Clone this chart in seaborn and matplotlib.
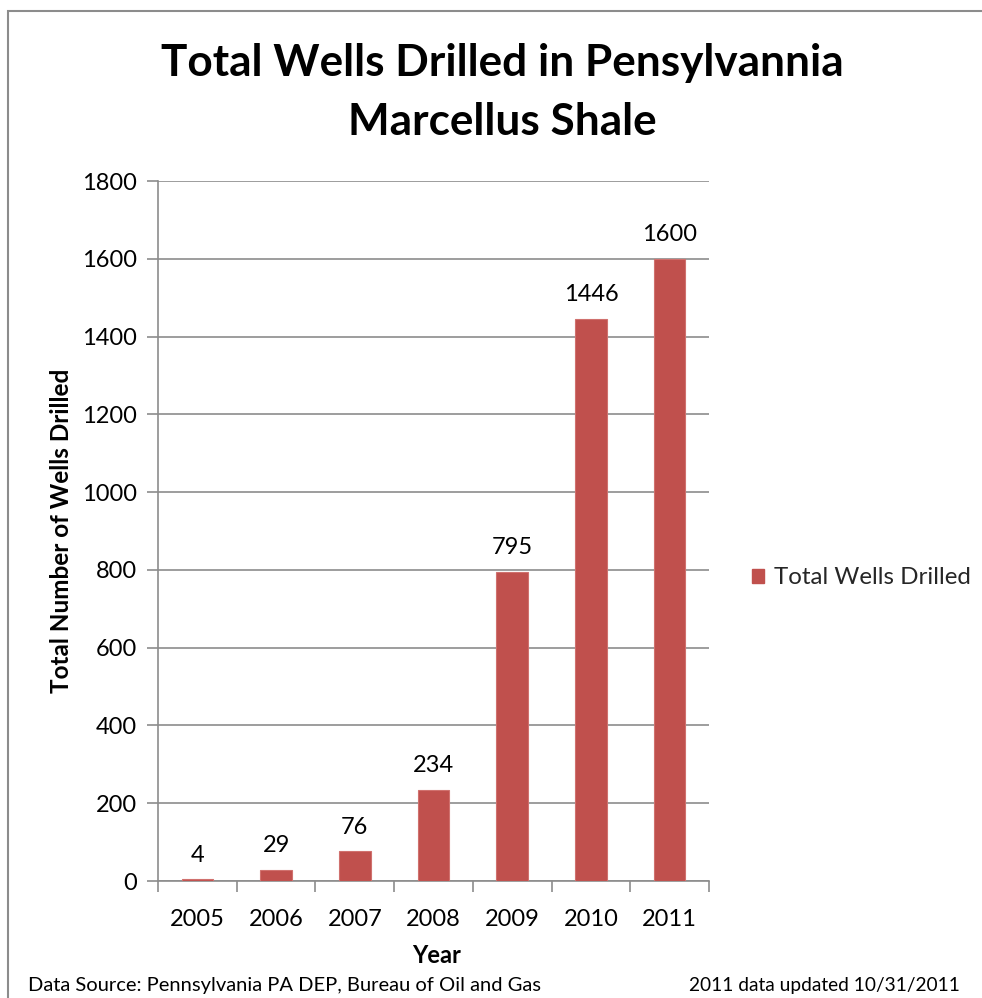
import matplotlib
matplotlib.use("Agg")
import matplotlib.pyplot as plt
import seaborn as sns
import pandas as pd
from matplotlib.patches import Rectangle, Patch

years = ["2005", "2006", "2007", "2008", "2009", "2010", "2011"]
wells = [4, 29, 76, 234, 795, 1446, 1600]
yticks = [0, 200, 400, 600, 800, 1000, 1200, 1400, 1600, 1800]

sns.set_theme(style="white")
plt.rcParams['font.family'] = ['Lato', 'DejaVu Sans']

W, H = 982, 998
fig = plt.figure(figsize=(W / 100, H / 100), dpi=100)
ax = fig.add_axes([158 / W, 1 - 881 / H, (709 - 158) / W, (881 - 181) / H])

df = pd.DataFrame({"Year": years, "Wells": wells})
sns.barplot(data=df, x="Year", y="Wells", color="#C0504D", width=0.4, ax=ax,
            saturation=1, edgecolor="#D0716E", linewidth=0.8, zorder=3)

ax.set_ylim(0, 1800)
ax.set_xlim(-0.5, len(years) - 0.5)
ax.set_yticks(yticks)
ax.yaxis.grid(True, color="#8C8C8C", linewidth=1.2, zorder=0)
ax.set_axisbelow(True)
for s in ["top", "right"]:
    ax.spines[s].set_visible(False)
for s in ["left", "bottom"]:
    ax.spines[s].set_color("#8C8C8C")
    ax.spines[s].set_linewidth(1.2)
ax.tick_params(axis="y", direction="out", length=8, width=1.2, color="#8C8C8C",
               labelsize=17, pad=7, left=True)
ax.tick_params(axis="x", bottom=False, labelsize=17, pad=14)
# category boundary ticks
ax.set_xticks([i - 0.5 for i in range(len(years) + 1)], minor=True)
ax.tick_params(axis="x", which="minor", bottom=True, direction="out", length=8,
               width=1.2, color="#8C8C8C")
for lbl in ax.get_yticklabels() + ax.get_xticklabels():
    lbl.set_color("black")

for i, v in enumerate(wells):
    ax.text(i, v + 35, str(v), ha="center", va="bottom", fontsize=17, color="black")

ax.set_xlabel("Year", fontsize=17, fontweight="bold", color="black")
ax.set_ylabel("Total Number of Wells Drilled", fontsize=17.5, fontweight="bold",
              color="black")
ax.xaxis.set_label_coords((437 - 158) / (709 - 158), -(944 - 881) / (881 - 181))
ax.yaxis.set_label_coords(-(158 - 73) / (709 - 158), (881 - 531) / (881 - 181))

fig.text(502 / W, 1 - 63 / H, "Total Wells Drilled in Pensylvannia", ha="center",
         va="center", fontsize=31.8, fontweight="bold", color="black")
fig.text(502 / W, 1 - 122 / H, "Marcellus Shale", ha="center",
         va="center", fontsize=31.8, fontweight="bold", color="black")

leg = fig.legend(handles=[Patch(facecolor="#C0504D", edgecolor="#C0504D",
                                label="Total Wells Drilled")],
                 loc="center left", bbox_to_anchor=(752 / W, 1 - 578 / H),
                 frameon=False, fontsize=17.4, handlelength=0.48, handleheight=0.48,
                 handletextpad=0.45, borderpad=0, borderaxespad=0)

fig.text(28 / W, 1 - 985 / H, "Data Source: Pennsylvania PA DEP, Bureau of Oil and Gas",
         ha="left", va="center", fontsize=14.5, color="black")
fig.text(960 / W, 1 - 985 / H, "2011 data updated 10/31/2011",
         ha="right", va="center", fontsize=13.8, color="black")

fig.patches.append(Rectangle((8 / W, -0.1), 1.2, 1 - 11 / H + 0.1,
                             transform=fig.transFigure, fill=False,
                             edgecolor="#8C8C8C", linewidth=1.5))

fig.savefig("out.png", dpi=100)
